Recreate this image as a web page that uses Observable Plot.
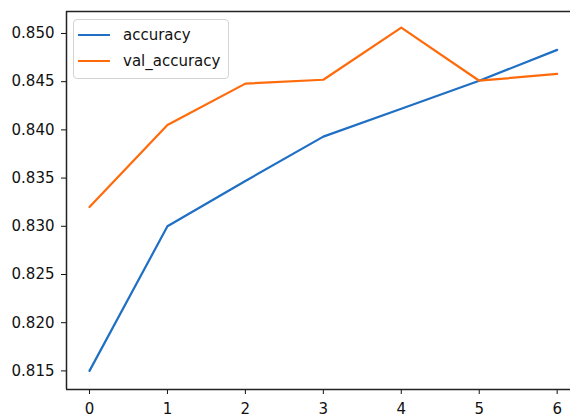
<!DOCTYPE html>
<html><head><meta charset="utf-8">
<script src="https://cdn.jsdelivr.net/npm/d3@7"></script>
<script src="https://cdn.jsdelivr.net/npm/@observablehq/plot@0.6"></script>
<style>
html,body{margin:0;padding:0;background:#fff;overflow:hidden}
#wrap{position:relative;width:570px;height:414px}
.legend{position:absolute;left:73px;top:19px;width:156px;height:60px;border:1px solid #d4d4d4;border-radius:4px;background:rgba(255,255,255,0.85);box-sizing:border-box;font:15px "DejaVu Sans",sans-serif;color:#111}
.legend .row{position:absolute;left:4px;height:20px;display:flex;align-items:center}
.legend .sw{width:32px;height:2.2px;margin-right:13px}
</style></head><body><div id="wrap"></div>
<script>
const epochs = [0, 1, 2, 3, 4, 5, 6];
const accuracy = [0.8150, 0.8300, 0.8347, 0.8393, 0.8422, 0.8451, 0.8483];
const valAccuracy = [0.8320, 0.8405, 0.8448, 0.8452, 0.8506, 0.8451, 0.8458];
const seriesNames = ["accuracy", "val_accuracy"];
const seriesColors = ["#1f6fc4", "#ff6a0a"];
const yTicks = [0.815, 0.820, 0.825, 0.830, 0.835, 0.840, 0.845, 0.850];
const xTicks = [0, 1, 2, 3, 4, 5, 6];

const xDomain = [-0.295, 6.171];
const yDomain = [0.81307, 0.85228];

const data = [];
epochs.forEach((e, i) => data.push({epoch: e, value: accuracy[i], series: seriesNames[0]}));
epochs.forEach((e, i) => data.push({epoch: e, value: valAccuracy[i], series: seriesNames[1]}));

const chart = Plot.plot({
  width: 570,
  height: 414,
  marginLeft: 66,
  marginRight: 0,
  marginTop: 11,
  marginBottom: 25,
  style: {fontFamily: "DejaVu Sans, sans-serif", fontSize: "15px", color: "#111", background: "#fff"},
  x: {domain: xDomain, label: null},
  y: {domain: yDomain, label: null},
  color: {domain: seriesNames, range: seriesColors},
  marks: [
    Plot.axisX({ticks: xTicks, tickFormat: d3.format("d"), tickSize: 5, tickPadding: 9, label: null}),
    Plot.axisY({ticks: yTicks, tickFormat: d3.format(".3f"), tickSize: 5, tickPadding: 7, label: null}),
    Plot.line(data, {x: "epoch", y: "value", stroke: "series", z: "series", strokeWidth: 2.2}),
    Plot.ruleX([xDomain[0]], {stroke: "#222", strokeWidth: 1.5}),
    Plot.ruleY([yDomain[0], yDomain[1]], {stroke: "#222", strokeWidth: 1.5})
  ]
});
const wrap = document.getElementById("wrap");
wrap.appendChild(chart);

const legend = document.createElement("div");
legend.className = "legend";
seriesNames.forEach((name, i) => {
  const row = document.createElement("div");
  row.className = "row";
  row.style.top = (5 + i * 26) + "px";
  const sw = document.createElement("div");
  sw.className = "sw";
  sw.style.background = seriesColors[i];
  const t = document.createElement("span");
  t.textContent = name;
  row.appendChild(sw);
  row.appendChild(t);
  legend.appendChild(row);
});
wrap.appendChild(legend);
</script></body></html>
